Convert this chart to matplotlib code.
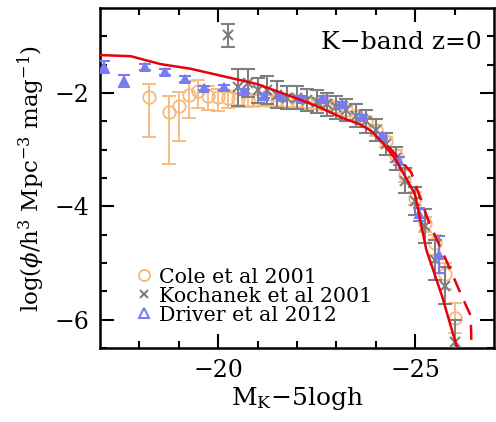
"""K-band luminosity function at z=0: model curves against observed data."""
import matplotlib
matplotlib.use("Agg")
import matplotlib.pyplot as plt
import numpy as np

plt.rcParams["font.family"] = ["DejaVu Serif"]
plt.rcParams["mathtext.fontset"] = "dejavuserif"

# model (solid) and variant (dashed)
model_mag = [-17.0, -17.78, -18.54, -19.29, -20.23, -20.98, -21.9, -22.5, -23.16,
             -23.59, -23.89, -24.2, -24.5, -24.85, -25.0, -25.28, -25.68, -25.98, -26.1]
model_phi = [-1.33, -1.35, -1.49, -1.57, -1.72, -1.84, -2.07, -2.23, -2.44,
             -2.55, -2.67, -2.9, -3.17, -3.6, -3.8, -4.76, -5.58, -6.3, -6.55]
dash_mag = [-24.3, -24.9, -25.05, -25.35, -25.78, -26.18, -26.41, -26.43]
dash_phi = [-2.93, -3.40, -3.70, -4.28, -4.94, -5.58, -5.93, -6.55]

# Cole et al 2001
cole_mag = [-18.25, -18.75, -19.0, -19.25, -19.5, -19.75, -20.0, -20.25, -20.5, -20.75,
            -21.0, -21.25, -21.5, -21.75, -22.0, -22.25, -22.5, -22.75, -23.0, -23.25,
            -23.5, -23.75, -24.0, -24.25, -24.5, -24.75, -25.0, -25.25, -25.5, -25.75, -26.0]
cole_phi = [-2.07, -2.34, -2.23, -2.04, -1.97, -2.05, -2.07, -2.08, -2.1, -2.12,
            -2.12, -2.12, -2.13, -2.15, -2.15, -2.17, -2.18, -2.2, -2.25, -2.3,
            -2.4, -2.5, -2.65, -2.85, -3.1, -3.45, -3.85, -4.3, -4.65, -5.2, -5.96]
cole_up = [0.23, 0.29, 0.25, 0.25, 0.2, 0.18, 0.15, 0.12, 0.1, 0.1,
           0.08, 0.08, 0.08, 0.08, 0.08, 0.08, 0.08, 0.08, 0.08, 0.08,
           0.08, 0.08, 0.08, 0.08, 0.1, 0.1, 0.1, 0.12, 0.15, 0.2, 0.26]
cole_lo = [0.71, 0.92, 0.62, 0.4, 0.3, 0.25, 0.25, 0.18, 0.14, 0.12,
           0.1, 0.1, 0.1, 0.1, 0.1, 0.1, 0.1, 0.1, 0.1, 0.1,
           0.1, 0.1, 0.1, 0.1, 0.12, 0.12, 0.12, 0.15, 0.2, 0.25, 0.27]

# Kochanek et al 2001
koch_mag = [-20.25, -20.5, -20.75, -21.0, -21.25, -21.5, -21.75, -22.0, -22.25, -22.5,
            -22.75, -23.0, -23.25, -23.5, -23.75, -24.0, -24.25, -24.5, -24.75, -25.0,
            -25.25, -25.5, -25.75, -26.0]
koch_phi = [-0.98, -1.9, -1.82, -1.95, -1.95, -2.03, -2.08, -2.08, -2.12, -2.15,
            -2.2, -2.25, -2.3, -2.4, -2.5, -2.65, -2.9, -3.15, -3.55, -3.9,
            -4.35, -4.95, -5.4, -6.4]
koch_err = [0.2, 0.33, 0.25, 0.22, 0.25, 0.24, 0.2, 0.2, 0.2, 0.2,
            0.2, 0.2, 0.2, 0.2, 0.2, 0.2, 0.2, 0.2, 0.22, 0.25,
            0.3, 0.35, 0.33, 0.4]

# Driver et al 2012
drv_mag = [-17.1, -17.6, -18.15, -18.65, -19.15, -19.65, -20.15, -20.65, -21.15,
           -21.6, -22.1, -22.65, -23.15, -23.65, -24.15, -24.6, -25.1, -25.6]
drv_phi = [-1.54, -1.79, -1.54, -1.63, -1.75, -1.91, -1.9, -1.96, -2.05,
           -2.07, -2.1, -2.1, -2.2, -2.42, -2.76, -3.2, -4.14, -4.85]
drv_err = [0.1, 0.1, 0.05, 0.05, 0.05, 0.04, 0.04, 0.04, 0.04,
           0.04, 0.04, 0.04, 0.04, 0.04, 0.05, 0.07, 0.12, 0.33]

fig = plt.figure(figsize=(4.96, 4.22), dpi=100)
ax = fig.add_axes([0.2016, 0.175, 0.7944, 0.806])

ax.errorbar(cole_mag, cole_phi, yerr=[cole_lo, cole_up], fmt="o", ms=9, mfc="none",
            mec="#f7b978", mew=1.3, ecolor="#f7b978", elinewidth=1.3, capsize=5,
            capthick=1.3, label="Cole et al 2001", zorder=2)
ax.errorbar(koch_mag, koch_phi, yerr=koch_err, fmt="x", ms=7, mec="#7f7f7f",
            mew=1.5, ecolor="#7f7f7f", elinewidth=1.5, capsize=5, capthick=1.5,
            label="Kochanek et al 2001", zorder=3)
ax.errorbar(drv_mag, drv_phi, yerr=drv_err, fmt="^", ms=6, mfc="#7b7bf0",
            mec="#7b7bf0", mew=1.5, ecolor="#7b7bf0", elinewidth=1.5, capsize=4,
            capthick=1.5, label="Driver et al 2012", zorder=4)
ax.plot(model_mag, model_phi, color="#e8000b", lw=1.8, zorder=5)
ax.plot(dash_mag, dash_phi, color="#e8000b", lw=1.8, ls=(0, (6, 4)), zorder=5)

ax.set_xlim(-17, -27)
ax.set_ylim(-6.5, -0.5)
ax.set_xticks([-20, -25])
ax.set_xticklabels(["\u221220", "\u221225"])
ax.set_xticks(np.arange(-18, -27, -1), minor=True)
ax.set_yticks([-2, -4, -6])
ax.set_yticklabels(["\u22122", "\u22124", "\u22126"])
ax.set_yticks(np.arange(-1, -6.6, -0.5), minor=True)
ax.tick_params(which="both", direction="in", top=True, right=True, width=1.5,
               labelsize=17, pad=8)
ax.tick_params(which="major", length=10)
ax.tick_params(which="minor", length=5)
for s in ax.spines.values():
    s.set_linewidth(1.8)

ax.set_xlabel(r"M$_\mathrm{K}$$-$5logh", fontsize=18, labelpad=2)
ax.set_ylabel(r"log($\phi$/h$^3$ Mpc$^{-3}$ mag$^{-1}$)", fontsize=16.5, labelpad=5)
ax.text(0.97, 0.9, "K\u2212band z=0", transform=ax.transAxes, ha="right",
        va="center", fontsize=18)

# legend shows open markers without error bars
leg_handles = [
    ax.plot([], [], "o", ms=8, mfc="none", mec="#f7b978", mew=1.3)[0],
    ax.plot([], [], "x", ms=6, mec="#7f7f7f", mew=1.5)[0],
    ax.plot([], [], "^", ms=7, mfc="none", mec="#7b7bf0", mew=1.5)[0],
]
labels = ["Cole et al 2001", "Kochanek et al 2001", "Driver et al 2012"]
ax.legend(leg_handles, labels, loc="lower left", bbox_to_anchor=(0.06, 0.045),
          frameon=False, fontsize=14.8, handletextpad=0.1, labelspacing=0.0,
          handlelength=1.2, borderaxespad=0)

fig.savefig("out.png", dpi=100)
